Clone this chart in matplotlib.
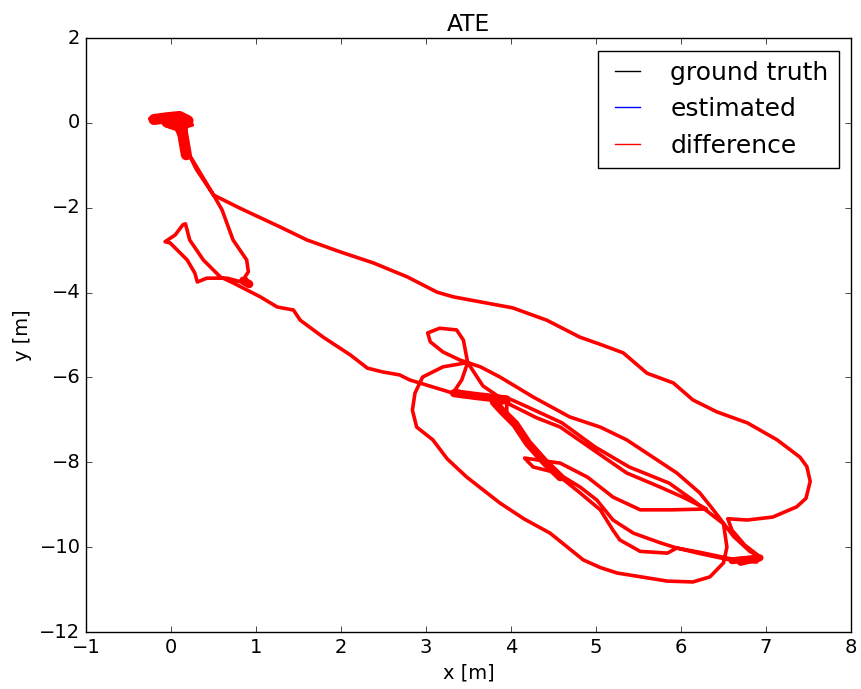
import numpy as np
import matplotlib
matplotlib.use("Agg")
import matplotlib.pyplot as plt

# trajectory waypoints (x, y in metres)
traj_x = [
    0.0, -0.25, -0.15, 0.0, 0.05, 0.15, 0.22, 0.25, 0.15, 0.0, -0.05, 0.1, 0.2, 0.15, 0.2, 0.35, 0.5,
    0.6, 0.73, 0.89, 0.91, 0.87, 0.92, 0.66, 0.42, 0.31, 0.28, 0.19, -0.01, -0.07, 0.05, 0.14, 0.17,
    0.22, 0.38, 0.58, 0.73, 1.05, 1.25, 1.44, 1.52, 1.79, 2.11, 2.31, 2.49, 2.69, 2.81, 3.32, 3.7, 4.0,
    4.2, 4.6, 4.99, 5.39, 5.86, 6.14, 6.34, 6.5, 6.54, 6.5, 6.34, 6.14, 5.84, 5.25, 5.05, 4.85, 4.46,
    4.15, 3.87, 3.48, 3.25, 3.08, 2.89, 2.84, 2.87, 2.96, 3.2, 3.49,
    3.44, 3.36, 3.16, 3.02, 3.05, 3.2, 3.4, 3.49,
    3.42, 3.34, 3.6, 3.95,
    3.95, 4.05, 4.22, 4.4, 4.58, 4.8, 5.05, 5.2, 5.28, 5.52, 5.84, 5.95,
    6.22, 6.62, 6.89, 6.93,
    6.81, 6.62, 6.38, 6.22, 5.95, 5.67, 5.36, 5.05, 4.69, 4.26, 3.87, 3.64, 3.49,
    3.67, 4.0, 4.3, 4.58, 4.97, 5.36, 5.75, 6.02, 6.3,
    5.9, 5.52, 5.2, 4.9, 4.58, 4.34, 4.16,
    4.26, 4.54, 4.81, 5.01, 5.2, 5.44, 5.76, 5.95,
    6.22, 6.6, 6.93, 6.75, 6.6, 6.55, 6.78, 7.08, 7.36, 7.47, 7.52, 7.48, 7.4, 7.13, 6.78, 6.42, 6.14,
    5.91, 5.6, 5.32, 5.05, 4.81, 4.42, 4.02, 3.64, 3.32, 3.13, 2.78, 2.38, 1.99, 1.6, 1.28, 0.8, 0.5, 0.3,
    0.15, 0.05,
]
traj_y = [
    0.0, 0.1, 0.05, 0.12, 0.22, 0.12, 0.05, -0.05, -0.1, -0.05, 0.05, 0.15, 0.0, -0.3, -0.7, -1.2, -1.7,
    -2.05, -2.76, -3.23, -3.51, -3.63, -3.8, -3.66, -3.66, -3.75, -3.54, -3.23, -2.83, -2.8, -2.64, -2.4, -2.38,
    -2.76, -3.23, -3.63, -3.77, -4.1, -4.34, -4.41, -4.65, -5.05, -5.47, -5.78, -5.87, -5.94, -6.06, -6.37, -6.42, -6.52,
    -6.7, -7.07, -7.64, -8.11, -8.49, -8.89, -9.2, -9.45, -10.0, -10.37, -10.7, -10.82, -10.8, -10.61, -10.48, -10.3, -9.67,
    -9.33, -8.96, -8.35, -7.92, -7.47, -7.17, -6.77, -6.37, -5.99, -5.75, -5.65,
    -5.12, -4.88, -4.84, -4.95, -5.16, -5.4, -5.59, -5.65,
    -6.06, -6.3, -6.45, -6.6,
    -6.85, -7.1, -7.6, -8.0, -8.35, -8.7, -9.12, -9.6, -9.83, -10.1, -10.14, -10.02,
    -10.15, -10.32, -10.35, -10.23,
    -10.1, -9.75, -9.12, -8.72, -8.25, -7.88, -7.47, -7.17, -6.93, -6.46, -5.99, -5.75, -5.65,
    -6.2, -6.65, -6.95, -7.17, -7.71, -8.25, -8.58, -8.82, -9.1,
    -9.12, -9.12, -8.82, -8.35, -8.02, -7.95, -7.9,
    -8.11, -8.25, -8.58, -8.89, -9.36, -9.67, -9.9, -10.02,
    -10.12, -10.28, -10.23, -9.95, -9.6, -9.33, -9.36, -9.29, -9.05, -8.85, -8.45, -8.1, -7.88, -7.47, -7.07, -6.81, -6.53,
    -6.13, -5.9, -5.42, -5.22, -5.05, -4.65, -4.36, -4.22, -4.1, -3.99, -3.63, -3.3, -3.04, -2.76, -2.45, -2.0, -1.7, -1.1,
    -0.5, -0.1,
]

# stretches where the error lines pile up into a wide red band
cluster_x = [-0.2, -0.05, 0.1, 0.2, 0.05, -0.05, 0.12, 0.15, 0.18]
cluster_y = [0.08, 0.12, 0.15, 0.05, -0.05, 0.02, -0.05, -0.4, -0.75]
blob_x = [3.33, 3.6, 3.95, 3.8, 3.9, 4.05, 4.2, 4.4, 4.58]
blob_y = [-6.37, -6.44, -6.52, -6.58, -6.8, -7.1, -7.55, -8.0, -8.35]
tip_x = [6.6, 6.93, 6.7]
tip_y = [-10.32, -10.25, -10.36]
knot_x = [0.85, 0.92]
knot_y = [-3.72, -3.8]

plt.style.use("classic")
plt.rcParams["font.family"] = ["DejaVu Sans"]
plt.rcParams["font.size"] = 14

fig = plt.figure(figsize=(8.61, 6.89), dpi=100, facecolor="white")
ax = fig.add_axes([0.0999, 0.0827, 0.8885, 0.8621])

ax.plot(traj_x, traj_y, "-", color="black", lw=1, label="ground truth")
ax.plot(traj_x, traj_y, "-", color="blue", lw=1, label="estimated")
ax.plot(traj_x, traj_y, "-", color="red", lw=2.6, solid_joinstyle="round",
        solid_capstyle="round")
for wx, wy, w in [(cluster_x, cluster_y, 8), (blob_x, blob_y, 6),
                  (tip_x, tip_y, 5), (knot_x, knot_y, 6)]:
    ax.plot(wx, wy, "-", color="red", lw=w, solid_joinstyle="round",
            solid_capstyle="round")
ax.plot([], [], "-", color="red", lw=1, label="difference")

ax.set_xlim(-1, 8)
ax.set_ylim(-12, 2)
ax.set_xlabel("x [m]")
ax.set_ylabel("y [m]")
ax.set_title("ATE")
ax.legend(loc="upper right", fontsize=18, handlelength=1.6,
          handletextpad=0.9, labelspacing=0.5, borderpad=0.4)

fig.savefig("out.png", dpi=100, facecolor="white")
